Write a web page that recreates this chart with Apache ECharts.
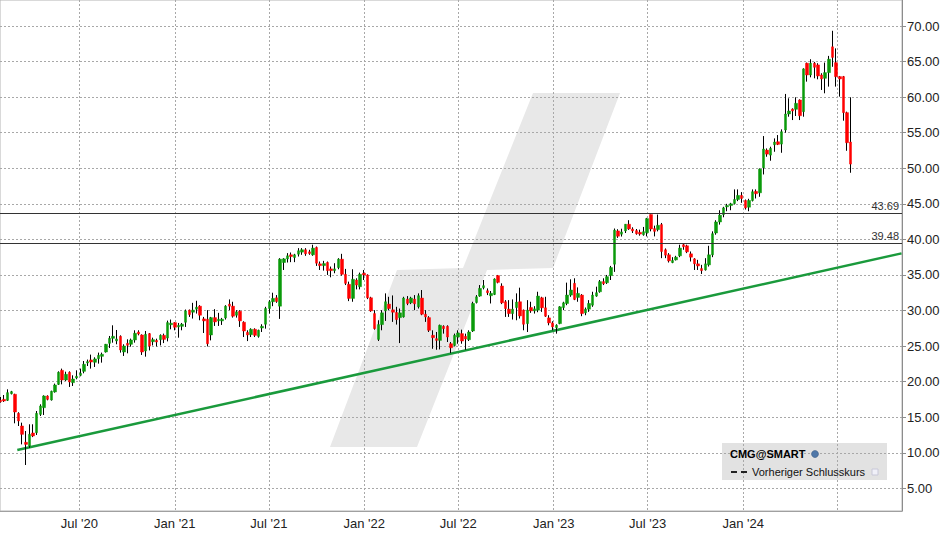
<!DOCTYPE html>
<html><head><meta charset="utf-8">
<script src="https://cdn.jsdelivr.net/npm/echarts@6/dist/echarts.min.js"></script>
<style>html,body{margin:0;padding:0;background:#fff}#c{width:948px;height:539px}</style>
</head><body><div id="c"></div>
<script>
// weekly candles, first week ending Friday 2020-01-31; rows = [open, close, low, high]
const firstWeekEnd = '2020-01-31';
const weeklyOHLC = [
[17.37,17.18,17.04,17.84],[17.51,17.28,17.14,18.12],[17.37,18.45,17.28,18.92],[18.31,18.59,18.2,18.7],
[18.22,15.73,14.14,18.3],[15.54,14.47,13.76,15.7],[13.76,12.59,11.18,14.23],[11.47,11.18,8.28,13.06],
[10.95,12.59,10.71,14.0],[12.78,12.36,12.2,14.0],[12.82,15.54,12.5,15.87],[15.4,16.58,15.17,16.81],
[16.34,17.98,15.31,18.08],[17.98,17.51,17.37,18.08],[17.42,18.64,17.33,18.73],[18.55,19.53,18.45,19.72],
[19.62,21.31,19.53,21.45],[21.59,20.23,19.62,21.83],[20.23,21.03,20.09,21.4],[21.31,19.95,19.25,21.45],
[19.86,20.37,19.39,20.89],[20.51,20.75,20.33,21.59],[20.89,21.17,20.75,21.83],[21.45,22.44,21.17,22.9],
[22.62,22.81,22.2,23.1],[23.05,22.76,21.83,23.8],[22.72,23.19,22.06,23.42],[23.23,23.7,22.53,24.08],
[23.56,23.84,22.67,24.08],[24.17,25.25,24.08,25.3],[25.39,26.09,24.73,26.42],[26.09,26.37,25.48,27.92],
[25.72,26.0,25.25,27.26],[26.37,24.45,24.08,26.51],[24.17,25.01,23.61,25.25],[25.39,25.11,23.98,25.95],
[25.25,25.86,24.92,26.05],[25.86,26.8,25.48,27.22],[26.98,26.7,26.51,27.22],[26.56,24.17,23.75,26.65],
[24.31,26.65,23.51,27.12],[26.75,25.0,24.39,26.84],[25.61,25.9,25.09,26.18],[25.8,25.57,24.95,26.04],
[25.9,26.51,25.09,26.65],[26.51,25.94,25.42,26.75],[26.13,28.3,25.66,28.58],[28.0,28.21,27.36,28.73],
[28.3,27.64,27.22,28.35],[27.69,27.92,26.18,28.25],[27.78,28.07,27.22,28.25],[28.35,29.95,27.69,30.14],
[30.05,29.43,29.1,30.14],[29.76,30.05,28.87,31.08],[30.19,30.47,29.57,31.37],[30.61,29.34,28.63,30.75],
[28.82,28.54,26.84,29.1],[28.77,25.33,24.95,30.05],[26.56,29.0,25.8,29.1],[29.0,28.4,27.83,30.19],
[28.54,28.77,27.83,29.67],[28.54,28.77,27.97,28.96],[28.96,30.61,28.73,30.75],[30.9,30.61,30.05,31.56],
[30.61,29.2,29.0,31.23],[29.34,29.81,29.0,30.05],[29.9,28.54,27.69,30.05],[28.35,27.12,26.27,28.49],
[26.93,26.56,25.7,27.22],[26.6,27.36,26.27,27.5],[27.36,26.51,26.27,27.5],[26.37,27.22,26.18,27.31],
[27.55,27.78,26.98,28.07],[28.07,30.28,27.45,30.52],[30.28,31.23,29.57,31.46],[31.23,31.7,30.61,32.5],
[31.79,31.27,31.08,32.17],[30.61,37.22,28.82,37.36],[36.75,37.26,35.7,37.36],[37.26,37.69,36.75,38.07],
[37.83,37.59,36.8,38.16],[37.45,37.83,36.8,37.97],[37.92,38.4,37.59,38.77],[38.21,38.54,37.83,38.77],
[38.54,37.97,37.69,38.77],[38.25,38.02,37.83,38.54],[37.83,38.77,37.69,39.25],[38.87,36.65,36.27,39.0],
[36.56,36.32,35.7,36.89],[36.32,36.6,35.61,36.98],[36.75,35.61,35.0,36.89],[35.85,35.61,34.67,36.18],
[35.61,35.85,35.24,36.65],[36.04,37.22,35.8,37.36],[37.22,35.09,34.9,37.97],[35.09,33.82,33.58,35.85],
[33.68,31.7,31.32,34.06],[31.7,34.39,31.23,35.8],[34.29,33.58,32.97,34.53],[33.35,35.09,32.97,35.33],
[35.24,35.0,34.29,35.7],[35.0,31.79,31.6,35.09],[31.79,29.95,29.81,31.93],[29.57,27.45,27.31,30.05],
[25.94,28.02,25.71,28.63],[28.02,29.67,27.22,30.05],[29.95,31.23,28.54,32.41],[30.9,30.28,30.05,31.93],
[30.09,29.76,28.4,32.12],[29.72,28.73,28.02,30.52],[29.0,29.67,25.42,30.28],[29.1,31.75,29.0,31.93],
[31.6,30.99,30.75,32.03],[31.08,31.75,30.9,31.93],[31.6,30.94,30.05,32.17],[30.52,32.08,30.28,32.41],
[31.75,29.48,29.34,32.88],[29.48,29.1,28.4,30.05],[29.0,27.22,26.98,29.2],[26.51,26.18,24.62,27.22],
[26.04,25.8,24.48,26.98],[25.8,27.92,24.53,28.02],[27.78,27.45,26.75,27.92],[27.78,26.27,25.57,27.92],
[25.33,24.76,24.01,25.57],[25.09,26.51,24.95,26.75],[26.27,26.84,25.33,27.22],[26.75,25.71,25.33,27.31],
[26.37,25.99,24.48,26.75],[25.9,26.98,25.71,27.22],[27.12,30.99,26.98,31.23],[31.13,31.93,30.99,32.17],
[32.03,33.11,31.93,33.58],[33.21,33.49,32.97,34.29],[32.78,32.5,32.17,33.11],[32.08,32.41,30.99,32.74],
[32.26,34.43,32.17,34.53],[34.91,33.96,33.82,35.0],[33.44,31.08,30.9,33.82],[31.23,30.28,29.1,31.46],
[30.19,29.57,29.1,31.46],[29.57,30.19,28.73,31.56],[30.42,31.18,28.63,32.41],[31.23,29.24,28.87,33.21],
[30.05,28.07,27.22,30.14],[28.16,30.05,26.98,31.46],[30.42,29.95,29.67,31.23],[29.95,30.23,29.57,30.61],
[30.05,32.03,29.76,32.64],[31.79,30.38,29.81,31.93],[30.38,29.2,29.1,31.93],[28.96,28.26,27.92,29.34],
[28.26,27.69,27.22,28.49],[27.59,27.92,26.75,28.07],[28.16,30.52,28.07,30.61],[30.42,31.08,30.05,31.23],
[30.99,32.17,30.75,33.92],[32.17,32.88,31.93,34.39],[33.82,31.56,31.46,34.53],[31.84,32.41,31.23,33.25],
[32.17,29.57,29.2,32.31],[29.67,30.19,29.34,30.42],[30.19,30.99,29.81,31.46],[30.75,32.17,30.52,32.64],
[32.03,32.5,31.93,33.35],[32.64,34.06,32.5,34.29],[34.06,33.77,33.58,34.53],[33.91,34.76,33.73,35.0],
[34.91,36.04,34.29,36.27],[36.51,41.29,35.43,41.53],[41.19,40.45,40.21,41.43],[40.73,41.05,40.4,41.5],
[41.19,42.13,40.9,42.13],[42.13,41.47,41.33,42.7],[41.46,41.18,40.9,41.7],[41.23,40.8,40.66,41.46],
[40.99,40.75,40.52,41.37],[40.66,41.08,40.52,41.75],[40.94,42.92,40.42,43.02],[43.49,41.46,41.13,43.49],
[41.51,41.13,40.42,41.93],[41.37,41.98,41.13,43.49],[42.08,38.3,37.36,42.31],[38.54,37.78,37.36,38.73],
[37.83,36.98,36.75,38.07],[36.75,37.03,36.65,37.5],[37.12,37.5,37.03,37.69],[37.69,38.77,37.5,39.25],
[39.25,38.96,38.54,39.48],[39.1,38.25,38.07,39.25],[37.97,37.5,36.89,38.3],[37.26,36.56,35.7,37.36],
[36.56,36.27,35.7,37.12],[35.9,35.61,35.14,36.42],[35.71,36.56,35.61,37.36],[36.42,37.83,36.18,39.1],
[37.83,40.8,37.5,41.13],[40.9,42.45,40.66,42.69],[42.45,43.4,42.08,44.1],[43.49,44.43,43.11,44.58],
[44.58,44.76,43.96,45.0],[44.76,45.0,44.1,45.14],[45.05,45.61,44.9,47.03],[45.61,46.18,45.38,47.03],
[46.18,45.75,45.14,46.65],[45.47,44.43,44.2,45.61],[44.53,45.47,43.96,45.71],[45.47,46.7,45.33,47.03],
[46.75,46.42,45.75,47.03],[46.55,49.88,45.99,49.98],[50.07,52.7,49.13,54.53],[52.56,51.99,51.62,52.79],
[51.85,52.79,51.06,53.03],[53.31,53.69,52.32,54.2],[53.73,53.36,53.26,54.67],[53.4,55.14,52.18,55.47],
[55.38,57.63,55.0,60.45],[57.63,58.05,57.25,59.84],[58.33,58.05,56.78,58.43],[58.29,59.13,57.35,59.98],
[59.6,57.39,56.78,59.69],[57.96,63.97,57.25,64.06],[64.77,63.12,62.18,64.86],[63.12,64.77,62.79,65.33],
[64.77,64.2,62.65,64.95],[64.53,62.98,62.51,64.77],[63.12,62.56,61.01,63.36],[62.65,63.45,60.54,64.86],
[63.45,65.33,61.48,65.8],[67.08,65.59,64.27,69.33],[64.85,62.88,61.48,66.86],[62.89,62.56,60.07,62.98],
[62.89,57.82,56.69,62.98],[57.82,53.59,52.46,57.96],[53.69,50.59,49.37,59.98]
];
const yTicks = [5,10,15,20,25,30,35,40,45,50,55,60,65,70];
const xGridDates = ['2020-07-01','2021-01-01','2021-07-01','2022-01-01','2022-07-01','2023-01-01','2023-07-01','2024-01-01','2024-07-01'];
const xLabelDates = ['2020-07-01','2021-01-01','2021-07-01','2022-01-01','2022-07-01','2023-01-01','2023-07-01','2024-01-01'];
const xLabels = ["Jul '20","Jan '21","Jul '21","Jan '22","Jul '22","Jan '23","Jul '23","Jan '24"];
const levels = [43.69, 39.48];
const trendLine = [['2020-03-03T14:00:00Z', 10.39], ['2024-11-01T00:00:00Z', 38.03]];
const legendTitle = 'CMG@SMART';
const legendItem = 'Vorheriger Schlusskurs';

const DAY = 86400000;
const ts = s => Date.parse(s.length === 10 ? s + 'T00:00:00Z' : s);
const t0 = ts(firstWeekEnd);
const weekDates = weeklyOHLC.map((r, i) => t0 + i * 7 * DAY);
const wickData = weeklyOHLC.map((r, i) => [weekDates[i], r[0], r[1], r[2], r[3]]);
const bodyData = weeklyOHLC.map((r, i) => [weekDates[i], r[0], r[1], Math.min(r[0], r[1]), Math.max(r[0], r[1])]);
const labelMap = {};
xLabelDates.forEach((d, i) => { labelMap[ts(d)] = xLabels[i]; });

const FONT = "'Liberation Sans', Arial, sans-serif";
const jul20 = ts('2020-07-01');
const xMin = jul20 - 152.77 * DAY;
const xMax = jul20 + 1584.9 * DAY;

const chart = echarts.init(document.getElementById('c'), null, {renderer: 'svg'});
chart.setOption({
  animation: false,
  backgroundColor: '#fff',
  textStyle: {fontFamily: FONT},
  grid: {left: 0, top: 0, right: 46, bottom: 28, show: true, borderColor: '#b4b4b4', borderWidth: 1},
  xAxis: {
    type: 'value', min: xMin, max: xMax, scale: true,
    axisLine: {show: true, lineStyle: {color: '#a0a0a0'}},
    axisTick: {show: false, customValues: xGridDates.map(ts)},
    axisLabel: {customValues: xLabelDates.map(ts), formatter: v => labelMap[v] || '', color: '#222', fontSize: 13, fontFamily: FONT, margin: 6},
    splitLine: {show: true, lineStyle: {color: '#a8a8a8', type: [2, 2]}}
  },
  yAxis: {
    type: 'value', position: 'right', min: 1.81, max: 73.66, scale: true,
    axisLine: {show: true, lineStyle: {color: '#8c8c8c'}},
    axisTick: {show: true, length: 4, customValues: yTicks, lineStyle: {color: '#8c8c8c'}},
    axisLabel: {customValues: yTicks, formatter: v => Number(v).toFixed(2), color: '#222', fontSize: 13, fontFamily: FONT, margin: 5},
    splitLine: {show: true, lineStyle: {color: '#a8a8a8', type: [2, 2]}}
  },
  graphic: [
    {type: 'polygon', z: -10, silent: true,
     shape: {points: [[533,93],[620,93],[553,268],[487,270],[417,447],[330,447],[397,270],[463,268]]},
     style: {fill: '#e8e8e8'}},
    {type: 'rect', z: -5, silent: true, shape: {x: 722, y: 443, width: 165, height: 37}, style: {fill: '#e2e2e2'}},
    {type: 'text', z: 100, x: 730, y: 454, style: {text: legendTitle, font: 'bold 11px ' + FONT, fill: '#000', verticalAlign: 'middle'}},
    {type: 'circle', z: 100, shape: {cx: 815, cy: 454, r: 3.5}, style: {fill: '#4f77a8', stroke: '#2f4f78', lineWidth: 0.5}},
    {type: 'line', z: 100, shape: {x1: 731, y1: 472, x2: 748, y2: 472}, style: {stroke: '#222', lineWidth: 2, lineDash: [6, 4]}},
    {type: 'text', z: 100, x: 752, y: 472, style: {text: legendItem, font: '11px ' + FONT, fill: '#111', verticalAlign: 'middle'}},
    {type: 'rect', z: 100, shape: {x: 872, y: 469, width: 6, height: 6}, style: {fill: '#f0f0f8', stroke: '#c8c8d8', lineWidth: 1}}
  ],
  series: [
    {type: 'line', data: trendLine.map(p => [ts(p[0]), p[1]]), symbol: 'none', z: 2, silent: true,
     lineStyle: {color: '#1a9a3c', width: 2.5}},
    {type: 'candlestick', data: wickData, barWidth: 1, z: 3, silent: true,
     itemStyle: {color: '#000', color0: '#000', borderColor: '#000', borderColor0: '#000', borderWidth: 1}},
    {type: 'candlestick', data: bodyData, barWidth: 3, z: 4, silent: true,
     itemStyle: {color: '#0a9a0a', color0: '#ff0000', borderColor: '#0a9a0a', borderColor0: '#ff0000', borderWidth: 0.5},
     markLine: {silent: true, symbol: ['none', 'none'], animation: false,
       lineStyle: {color: '#333', width: 1, type: 'solid'},
       label: {position: 'insideEndTop', formatter: p => Number(p.value).toFixed(2), color: '#333', fontSize: 11, fontFamily: FONT, distance: [3, 2]},
       data: levels.map(v => ({yAxis: v}))}}
  ]
});
</script></body></html>
